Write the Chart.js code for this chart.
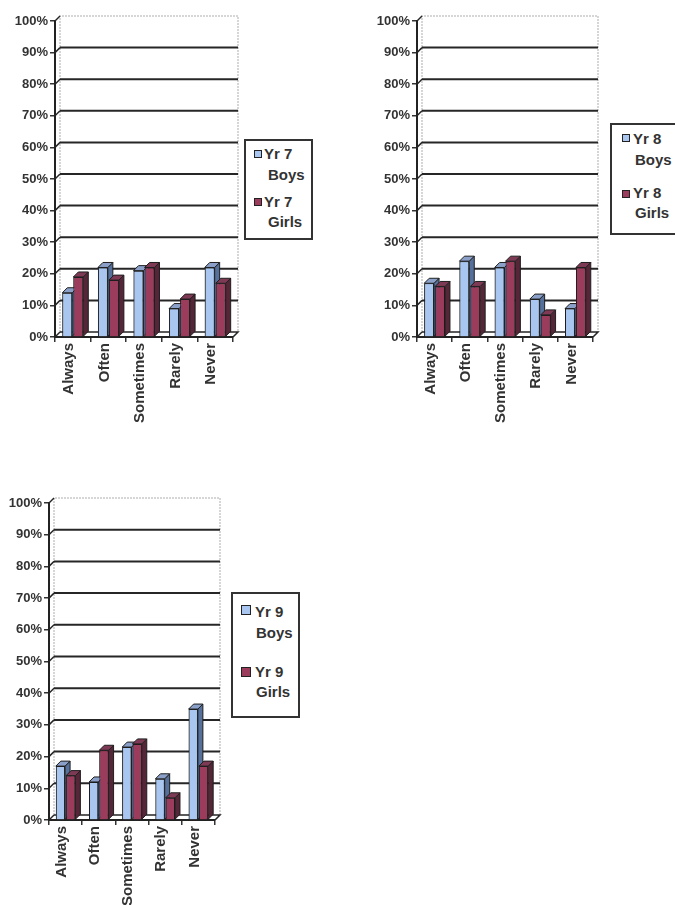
<!DOCTYPE html>
<html>
<head>
<meta charset="utf-8">
<script src="https://cdn.jsdelivr.net/npm/chart.js@4.4.1/dist/chart.umd.min.js"></script>
<style>
  html, body { margin: 0; padding: 0; background: #fff; width: 675px; height: 905px; overflow: hidden; position: relative;
    font-family: 'Liberation Sans', Arial, sans-serif; }
  canvas { position: absolute; }
  .lg-box { position: absolute; border: 2px solid #333; box-sizing: border-box; background: #fff; }
  .lg-sw { position: absolute; border: 1px solid #222; box-sizing: border-box; }
  .lg-tx { position: absolute; font-weight: bold; font-size: 15px; line-height: 15px; color: #333; white-space: nowrap; }
</style>
</head>
<body>
<canvas id="c7" width="240" height="425" style="left:0;top:0"></canvas>
<canvas id="c8" width="262" height="425" style="left:340px;top:0"></canvas>
<canvas id="c9" width="225" height="425" style="left:0;top:480px"></canvas>

<script>
// ---- data ----
const categories = ['Always', 'Often', 'Sometimes', 'Rarely', 'Never'];

const yr7Boys  = [14, 22, 21, 9, 22];
const yr7Girls = [19, 18, 22, 12, 17];

const yr8Boys  = [17, 24, 22, 12, 9];
const yr8Girls = [16, 16, 24, 7, 22];

const yr9Boys  = [17, 12, 23, 13, 35];
const yr9Girls = [14, 22, 24, 7, 17];

const yTickValues = [0, 10, 20, 30, 40, 50, 60, 70, 80, 90, 100];
const yTickLabels = ['0%', '10%', '20%', '30%', '40%', '50%', '60%', '70%', '80%', '90%', '100%'];

const legend7 = [['Yr 7', 'Boys'], ['Yr 7', 'Girls']];
const legend8 = [['Yr 8', 'Boys'], ['Yr 8', 'Girls']];
const legend9 = [['Yr 9', 'Boys'], ['Yr 9', 'Girls']];

// ---- styling ----
const boysStyle  = { front: '#a8c6ef', side: '#56709c', top: '#8aa0c9' };
const girlsStyle = { front: '#9c3c5d', side: '#552638', top: '#7e3a55' };
const ink = '#333';
const depth = { dx: 5, dy: 5 };

Chart.defaults.font.family = "'Liberation Sans', Arial, sans-serif";
Chart.defaults.color = ink;

// Back wall, gridlines and the extruded sides/tops of each column
const shade3d = {
  id: 'shade3d',
  beforeDatasetsDraw(chart) {
    const { ctx, chartArea: a, scales: { y } } = chart;
    const { dx, dy } = depth;
    ctx.save();
    // light outline of the back wall
    ctx.strokeStyle = '#c9c9c9';
    ctx.lineWidth = 1.5;
    ctx.setLineDash([2, 1]);
    ctx.beginPath();
    ctx.moveTo(a.left + dx, a.bottom - dy);
    ctx.lineTo(a.left + dx, a.top - dy);
    ctx.lineTo(a.right + dx, a.top - dy);
    ctx.lineTo(a.right + dx, a.bottom - dy);
    ctx.stroke();
    ctx.setLineDash([]);
    // gridlines on the back wall
    ctx.strokeStyle = '#262626';
    ctx.lineWidth = 2;
    y.ticks.forEach(t => {
      if (t.value <= y.min || t.value >= y.max) return;
      const py = y.getPixelForValue(t.value) - dy;
      ctx.beginPath();
      ctx.moveTo(a.left + dx, py);
      ctx.lineTo(a.right + dx, py);
      ctx.stroke();
    });
    // slanted ticks joining the axis to the wall
    ctx.lineWidth = 1.5;
    y.ticks.forEach(t => {
      const py = y.getPixelForValue(t.value);
      ctx.beginPath();
      ctx.moveTo(a.left, py);
      ctx.lineTo(a.left + dx, py - dy);
      ctx.stroke();
    });
    // floor edges
    ctx.beginPath();
    ctx.moveTo(a.left + dx, a.bottom - dy);
    ctx.lineTo(a.right + dx, a.bottom - dy);
    ctx.lineTo(a.right, a.bottom);
    ctx.stroke();
    ctx.restore();
  },
  afterDatasetsDraw(chart) {
    const { ctx } = chart;
    const { dx, dy } = depth;
    ctx.save();
    chart.data.datasets.forEach((ds, i) => {
      const meta = chart.getDatasetMeta(i);
      meta.data.forEach(el => {
        el.draw(ctx); // front face again, so later series cover earlier sides
        const { x, y, base, width } = el.getProps(['x', 'y', 'base', 'width'], true);
        const l = x - width / 2, r = x + width / 2;
        ctx.lineWidth = 1;
        ctx.strokeStyle = '#1e1e1e';
        ctx.fillStyle = ds.sideColor;
        ctx.beginPath();
        ctx.moveTo(r, y);
        ctx.lineTo(r + dx, y - dy);
        ctx.lineTo(r + dx, base - dy);
        ctx.lineTo(r, base);
        ctx.closePath();
        ctx.fill();
        ctx.stroke();
        ctx.fillStyle = ds.topColor;
        ctx.beginPath();
        ctx.moveTo(l, y);
        ctx.lineTo(l + dx, y - dy);
        ctx.lineTo(r + dx, y - dy);
        ctx.lineTo(r, y);
        ctx.closePath();
        ctx.fill();
        ctx.stroke();
      });
    });
    ctx.restore();
  }
};

function buildChart(id, boys, girls, names, geo) {
  const mk = (label, data, st) => ({
    label, data,
    backgroundColor: st.front,
    borderColor: '#1e1e1e',
    borderWidth: 1,
    sideColor: st.side,
    topColor: st.top,
    categoryPercentage: 0.62,
    barPercentage: 0.9
  });
  return new Chart(document.getElementById(id), {
    type: 'bar',
    data: {
      labels: categories,
      datasets: [mk(names[0].join(' '), boys, boysStyle), mk(names[1].join(' '), girls, girlsStyle)]
    },
    options: {
      responsive: false,
      animation: false,
      devicePixelRatio: 1,
      layout: { padding: { top: geo.padTop, right: geo.padRight, left: 0, bottom: 0 } },
      plugins: { legend: { display: false }, tooltip: { enabled: false } },
      scales: {
        x: {
          afterFit(s) { s.height = geo.xh; },
          grid: { offset: true, drawOnChartArea: false, tickLength: 5, color: ink, lineWidth: 1.5 },
          border: { display: true, color: '#222', width: 2 },
          ticks: {
            maxRotation: 90, minRotation: 90, padding: 1, labelOffset: -4,
            font: { size: 15, weight: 'bold' }, color: ink, autoSkip: false
          }
        },
        y: {
          min: 0, max: 100,
          afterFit(s) { s.width = geo.yw; },
          afterBuildTicks(s) { s.ticks = yTickValues.map(v => ({ value: v })); },
          grid: { drawOnChartArea: false, tickLength: 5, color: ink, lineWidth: 1.5 },
          border: { display: true, color: '#222', width: 2 },
          ticks: {
            padding: 2,
            font: { size: 13, weight: 'bold' }, color: ink,
            callback(v) { return yTickLabels[yTickValues.indexOf(v)]; }
          }
        }
      }
    },
    plugins: [shade3d]
  });
}

function buildLegend(names, lay) {
  const box = document.createElement('div');
  box.className = 'lg-box';
  Object.assign(box.style, { left: lay.box[0] + 'px', top: lay.box[1] + 'px', width: lay.box[2] + 'px', height: lay.box[3] + 'px' });
  document.body.appendChild(box);
  const styles = [boysStyle, girlsStyle];
  names.forEach((lines, i) => {
    const sw = document.createElement('div');
    sw.className = 'lg-sw';
    const s = lay.sw[i];
    Object.assign(sw.style, { left: s[0] + 'px', top: s[1] + 'px', width: s[2] + 'px', height: s[2] + 'px', background: styles[i].front });
    document.body.appendChild(sw);
    lines.forEach((txt, j) => {
      const p = lay.lines[i * 2 + j];
      const t = document.createElement('div');
      t.className = 'lg-tx';
      t.textContent = txt;
      Object.assign(t.style, { left: p[0] + 'px', top: (p[1] - 13) + 'px' });
      document.body.appendChild(t);
    });
  });
}

buildChart('c7', yr7Boys, yr7Girls, legend7, { yw: 55, padTop: 21, padRight: 7, xh: 88 });
buildChart('c8', yr8Boys, yr8Girls, legend8, { yw: 77, padTop: 21, padRight: 9, xh: 88 });
buildChart('c9', yr9Boys, yr9Girls, legend9, { yw: 49, padTop: 23, padRight: 10, xh: 85 });

buildLegend(legend7, { box: [244, 139, 69, 101], sw: [[254, 150, 8], [254, 198, 8]],
  lines: [[264, 159], [268, 180], [264, 207], [268, 227]] });
buildLegend(legend8, { box: [610, 123, 80, 112], sw: [[622, 134, 8], [622, 190, 8]],
  lines: [[633, 144], [635, 165], [633, 198], [635, 218]] });
buildLegend(legend9, { box: [231, 592, 69, 126], sw: [[241, 605, 10], [241, 667, 10]],
  lines: [[255, 617], [256, 638], [255, 677], [256, 697]] });
</script>
</body>
</html>
